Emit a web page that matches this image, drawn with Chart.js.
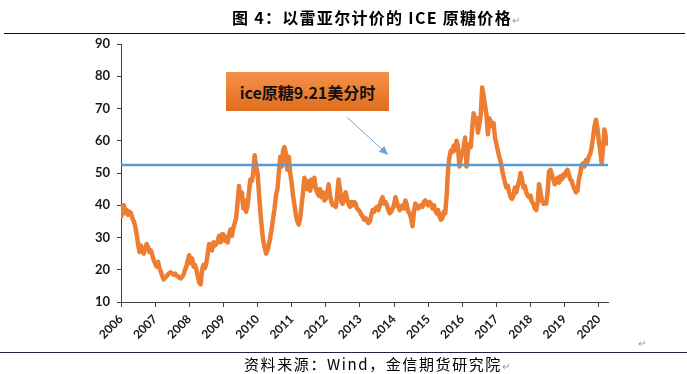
<!DOCTYPE html>
<html>
<head>
<meta charset="utf-8">
<script src="https://cdn.jsdelivr.net/npm/chart.js@4.4.1/dist/chart.umd.min.js"></script>
<style>
  html, body { margin: 0; padding: 0; background: #fff; }
  body { width: 687px; height: 374px; position: relative; overflow: hidden; }
  #wrap { position: absolute; left: 0; top: 0; width: 687px; height: 374px; }
  .title { position: absolute; left: 232px; top: 5px; white-space: nowrap; font-family: "Noto Sans CJK SC", sans-serif; font-size: 16px; font-weight: 700; color: #000; letter-spacing: 1.3px; }
  .rule-top { position: absolute; left: 4px; right: 2px; top: 33px; border-top: 1.5px solid #111; }
  .rule-bottom { position: absolute; left: 0; right: 0; top: 352px; border-top: 1px solid #1c2350; }
  .source { position: absolute; left: 244px; top: 353px; white-space: nowrap; font-family: "Noto Sans CJK SC", sans-serif; font-size: 15px; color: #000; letter-spacing: 1.6px; }
  .mark { color: #999; font-size: 10px; font-weight: 400; letter-spacing: 0; }
  .callout { position: absolute; left: 226px; top: 72px; width: 163px; height: 39px;
    background: linear-gradient(to bottom, #f3934a 0%, #ec7f33 50%, #de6d1f 100%);
    font-family: "Noto Sans CJK SC", sans-serif; font-size: 16px; font-weight: 700; color: #111;
    display: flex; align-items: center; justify-content: center; }
</style>
</head>
<body>
<div id="wrap"><canvas id="sugarChart"></canvas></div>
<div class="title">图 4：以雷亚尔计价的 ICE 原糖价格<span class="mark">↵</span></div>
<div class="rule-top"></div>
<div class="callout">ice原糖9.21美分时</div>
<div class="rule-bottom"></div>
<div class="source">资料来源：Wind，金信期货研究院<span class="mark">↵</span></div>
<div class="mark" style="position:absolute;left:638px;top:338px;">↵</div>
<script>
// ICE raw sugar priced in BRL, ~2 points per month
const startYear = 2006;
const p2006 = [36, 39.5, 40, 37.5, 38.5, 37, 38, 37.5, 36, 35, 33.5, 31, 28, 25.5, 27.5, 26, 25, 26.5, 28, 27, 25.5, 26, 24.5, 23];
const p2007 = [22, 21, 22.5, 20.5, 19.5, 18, 17, 17.5, 18, 18.5, 19, 19.2, 18.8, 18.5, 18.8, 18.2, 18, 17.5, 17.3, 17.8, 18.5, 20, 21, 23];
const p2008 = [24.5, 22, 23.5, 21, 21.5, 20, 18, 16, 15.5, 20, 21.5, 20.5, 22, 25, 28, 27, 26, 28.5, 27.5, 28, 29, 30.5, 28.5, 31];
const p2009 = [31, 29, 30, 28.5, 31, 32.5, 30.5, 33, 34.5, 36, 41, 46, 42, 44, 39, 41.5, 38, 40, 44, 48, 47.5, 50, 55.5, 52];
const p2010 = [50, 44, 38, 33, 29, 27, 25, 26, 28, 30, 33, 36, 39, 43, 45, 50, 55, 52, 57, 58, 56, 51, 55, 50];
const p2011 = [47, 43, 40, 37, 35, 34, 36, 40, 44, 48.5, 47, 45, 47.5, 44.5, 48, 46, 48.5, 45, 44, 43, 45, 42.5, 44, 41.5];
const p2012 = [42, 44, 46.5, 43, 41, 40, 40.5, 39.5, 43, 48, 45, 41, 40.5, 43, 44, 42, 40.5, 39.5, 41, 40, 41, 40.5, 39, 38.5];
const p2013 = [38, 37, 36.5, 35.5, 36, 35, 34.5, 35, 37, 38.5, 38, 39, 39.5, 38.5, 40, 41.5, 42.5, 40.5, 41, 40, 38.5, 37.5, 38, 39];
const p2014 = [40, 42.5, 41, 39.5, 38.5, 39, 40, 39, 41.5, 40, 38, 37.5, 36, 33.5, 38, 40.5, 40, 39, 39.5, 40, 39.5, 41, 41.5, 40.5];
const p2015 = [40, 41, 40.5, 39, 40, 38.5, 37.5, 38.5, 36.5, 35.5, 36, 38, 37.5, 43, 51, 55, 57, 56.5, 58.5, 57, 60, 58, 52, 55];
const p2016 = [56, 58, 61, 52, 57, 59, 58, 64, 68.5, 66, 67, 62.5, 65, 68, 76.5, 74, 71, 68, 62, 67, 66, 64.5, 65.5, 61];
const p2017 = [59, 57, 55, 53.5, 51, 49, 47, 45.5, 46, 44, 42.5, 42, 43, 45.5, 44, 46, 47.5, 50, 48, 45.5, 46, 44, 43, 42.5];
const p2018 = [43, 41, 40.5, 39, 38.5, 41, 46.5, 44, 41.5, 40.5, 41, 40.5, 44, 50.5, 51, 49.5, 48, 46.5, 47.5, 48.5, 47, 49, 48, 49.5];
const p2019 = [49, 50.5, 51, 49.5, 48, 47.5, 46, 45, 44, 44.5, 48, 50, 52.5, 53, 52, 54, 53.5, 55, 56, 58, 61, 64.5, 66.5, 64];
const p2020 = [60, 57, 53, 58, 63.5, 61, 58.5];

// level of the price when ICE sugar is at 9.21 US cents
const refLevel = 52.5;
const yearLabels = ['2006', '2007', '2008', '2009', '2010', '2011', '2012', '2013', '2014', '2015', '2016', '2017', '2018', '2019', '2020'];
const yTicks = [10, 20, 30, 40, 50, 60, 70, 80, 90];

const series = [p2006, p2007, p2008, p2009, p2010, p2011, p2012, p2013, p2014, p2015, p2016, p2017, p2018, p2019, p2020];
const pricePoints = [];
series.forEach((arr, k) => {
  arr.forEach((v, i) => pricePoints.push({ x: startYear + k + i / 24, y: v }));
});
const xMax = 2020.27;

// thin blue arrow from the callout down to the reference line
const arrowPlugin = {
  id: 'arrow',
  afterDatasetsDraw(chart) {
    const { ctx, scales: { x, y } } = chart;
    const x0 = x.getPixelForValue(2012.62), y0 = y.getPixelForValue(67.3);
    const x1 = x.getPixelForValue(2013.83), y1 = y.getPixelForValue(55.6);
    const ang = Math.atan2(y1 - y0, x1 - x0);
    ctx.save();
    ctx.strokeStyle = '#6fa3d8';
    ctx.fillStyle = '#6fa3d8';
    ctx.lineWidth = 1;
    ctx.beginPath();
    ctx.moveTo(x0, y0);
    ctx.lineTo(x1 - 6 * Math.cos(ang), y1 - 6 * Math.sin(ang));
    ctx.stroke();
    ctx.beginPath();
    ctx.moveTo(x1, y1);
    ctx.lineTo(x1 - 9 * Math.cos(ang) + 4 * Math.sin(ang), y1 - 9 * Math.sin(ang) - 4 * Math.cos(ang));
    ctx.lineTo(x1 - 9 * Math.cos(ang) - 4 * Math.sin(ang), y1 - 9 * Math.sin(ang) + 4 * Math.cos(ang));
    ctx.closePath();
    ctx.fill();
    ctx.restore();
  }
};

new Chart(document.getElementById('sugarChart'), {
  type: 'line',
  data: {
    datasets: [
      {
        label: 'ice原糖9.21美分时',
        data: [{ x: startYear, y: refLevel }, { x: xMax, y: refLevel }],
        borderColor: '#5b9bd5',
        borderWidth: 2.5,
        pointRadius: 0,
        fill: false
      },
      {
        label: 'ICE原糖(雷亚尔)',
        data: pricePoints,
        borderColor: '#ed7d31',
        borderWidth: 4.5,
        pointRadius: 0,
        tension: 0,
        borderJoinStyle: 'round',
        fill: false
      }
    ]
  },
  options: {
    responsive: true,
    maintainAspectRatio: false,
    animation: false,
    layout: { padding: { left: 60, top: 44, right: 79, bottom: 32 } },
    plugins: {
      legend: { display: false },
      tooltip: { enabled: false }
    },
    scales: {
      x: {
        type: 'linear',
        min: startYear,
        max: xMax,
        afterFit: s => { s.height = 40; },
        // one tick per year label, nothing at the axis end
        afterBuildTicks: s => { s.ticks = yearLabels.map(l => ({ value: Number(l) })); },
        border: { display: true, color: '#404040', width: 1 },
        grid: { drawOnChartArea: false, drawTicks: true, tickLength: 5, color: '#404040' },
        ticks: {
          stepSize: 1,
          minRotation: 45,
          maxRotation: 45,
          autoSkip: false,
          padding: 5,
          color: '#1a1a1a',
          font: { family: 'Lato, "Open Sans", sans-serif', size: 12, weight: '700' },
          callback: v => yearLabels[Math.round(v) - startYear]
        }
      },
      y: {
        min: yTicks[0],
        max: yTicks[yTicks.length - 1],
        afterFit: s => { s.width = 61; },
        border: { display: true, color: '#404040', width: 1 },
        grid: { drawOnChartArea: false, drawTicks: true, tickLength: 4, color: '#404040' },
        ticks: {
          stepSize: 10,
          padding: 7,
          color: '#1a1a1a',
          font: { family: 'Lato, "Open Sans", sans-serif', size: 13, weight: '700' }
        }
      }
    }
  },
  plugins: [arrowPlugin]
});
</script>
</body>
</html>
